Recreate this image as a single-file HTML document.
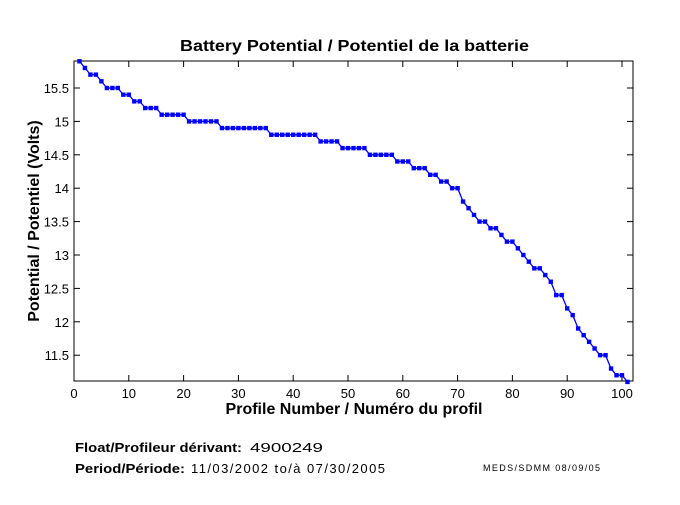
<!DOCTYPE html>
<html><head><meta charset="utf-8"><style>
body{margin:0;background:#fff;width:680px;height:500px;overflow:hidden;font-family:"Liberation Sans",sans-serif}
</style></head><body>
<svg id="s" width="680" height="500" xmlns="http://www.w3.org/2000/svg" font-family="Liberation Sans, sans-serif">
<rect width="680" height="500" fill="#fff"/>
<text x="180" y="51" font-size="16" font-weight="bold" textLength="349" lengthAdjust="spacingAndGlyphs">Battery Potential / Potentiel de la batterie</text>
<rect x="74" y="61" width="559" height="320" fill="none" stroke="#000" stroke-width="1"/>
<g id="ticks" stroke="#000"></g>
<g id="lbl" font-size="13" fill="#000"></g>
<text x="354" y="414" font-size="16" font-weight="bold" text-anchor="middle">Profile Number / Numéro du profil</text>
<text transform="translate(39,221) rotate(-90)" font-size="16" font-weight="bold" text-anchor="middle">Potential / Potentiel (Volts)</text>
<polyline id="ln" fill="none" stroke="#0000ff" stroke-width="1.3"/>
<g id="mk" fill="#0000ff"></g>
<text x="75" y="452" font-size="13" font-weight="bold" textLength="167" lengthAdjust="spacingAndGlyphs">Float/Profileur dérivant:</text>
<text x="250" y="452" font-size="13" textLength="73" lengthAdjust="spacingAndGlyphs">4900249</text>
<text x="75" y="473" font-size="13" font-weight="bold" textLength="110" lengthAdjust="spacingAndGlyphs">Period/Période:</text>
<text x="191" y="473" font-size="13" textLength="194" lengthAdjust="spacing">11/03/2002  to/à  07/30/2005</text>
<text x="483" y="471" font-size="9" textLength="117" lengthAdjust="spacing">MEDS/SDMM  08/09/05</text>
</svg>
<script>
var ns="http://www.w3.org/2000/svg";
function X(v){return 74+v*5.48}
function Y(v){return 88+(15.5-v)*66.8}
function el(t,a,p){var e=document.createElementNS(ns,t);for(var k in a)e.setAttribute(k,a[k]);p.appendChild(e);return e}
var tk=document.getElementById('ticks'),lb=document.getElementById('lbl');
for(var i=0;i<=100;i+=10){var x=X(i);el('line',{x1:x,y1:381,x2:x,y2:375},tk);el('line',{x1:x,y1:61,x2:x,y2:67},tk);var t=el('text',{x:x,y:398,'text-anchor':'middle'},lb);t.textContent=i;}
for(var v=11.5;v<=15.5;v+=0.5){var y=Y(v);el('line',{x1:74,y1:y,x2:80,y2:y},tk);el('line',{x1:633,y1:y,x2:627,y2:y},tk);var t=el('text',{x:69,y:y+5,'text-anchor':'end'},lb);t.textContent=(v%1==0?v.toFixed(0):v.toFixed(1));}
var d=[15.9,15.8,15.7,15.7,15.6,15.5,15.5,15.5,15.4,15.4,15.3,15.3,15.2,15.2,15.2,15.1,15.1,15.1,15.1,15.1,15.0,15.0,15.0,15.0,15.0,15.0,14.9,14.9,14.9,14.9,14.9,14.9,14.9,14.9,14.9,14.8,14.8,14.8,14.8,14.8,14.8,14.8,14.8,14.8,14.7,14.7,14.7,14.7,14.6,14.6,14.6,14.6,14.6,14.5,14.5,14.5,14.5,14.5,14.4,14.4,14.4,14.3,14.3,14.3,14.2,14.2,14.1,14.1,14.0,14.0,13.8,13.7,13.6,13.5,13.5,13.4,13.4,13.3,13.2,13.2,13.1,13.0,12.9,12.8,12.8,12.7,12.6,12.4,12.4,12.2,12.1,11.9,11.8,11.7,11.6,11.5,11.5,11.3,11.2,11.2,11.1];
var pts=[],mk=document.getElementById('mk');
for(var i=0;i<d.length;i++){var x=X(i+1),y=Y(d[i]);pts.push(x.toFixed(1)+','+y.toFixed(1));el('rect',{x:x-2.2,y:y-2.2,width:4.4,height:4.4},mk);}
document.getElementById('ln').setAttribute('points',pts.join(' '));
</script>
</body></html>
